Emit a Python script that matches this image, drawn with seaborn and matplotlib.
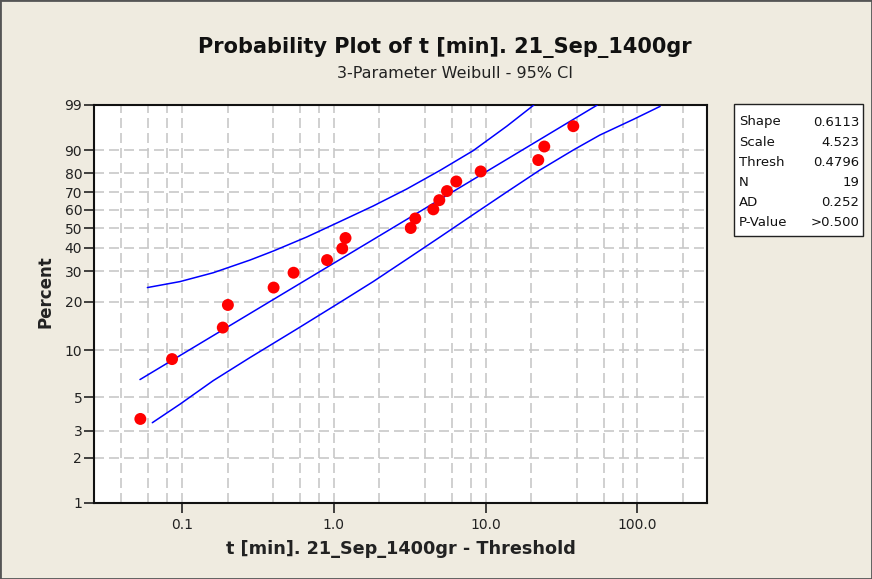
import matplotlib
matplotlib.use("Agg")
import matplotlib.pyplot as plt
import matplotlib.patches as patches
from matplotlib.ticker import NullFormatter, NullLocator
import numpy as np
import pandas as pd
import seaborn as sns

# values
t_obs = [0.0533, 0.0862, 0.186, 0.201, 0.402, 0.544, 0.904, 1.139, 1.196, 3.213,
         3.445, 4.526, 4.958, 5.571, 6.413, 9.284, 22.23, 24.35, 37.8]
pct_obs = [3.6, 8.8, 13.9, 19.1, 24.2, 29.4, 34.5, 39.7, 44.8, 50.0,
           55.2, 60.3, 65.5, 70.6, 75.8, 80.9, 86.1, 91.2, 96.4]

fit_t = [0.053, 54.4]
fit_pct = [6.5, 99.0]

upper_t = [0.0593, 0.0973, 0.161, 0.281, 0.400, 0.664, 1.10, 1.82, 3.02, 5.01, 8.30, 13.8, 20.8]
upper_pct = [24.2, 26.2, 29.4, 34.5, 38.5, 45.3, 53.5, 62.2, 71.7, 81.4, 89.8, 96.4, 99.0]

lower_t = [0.0639, 0.0973, 0.161, 0.281, 0.571, 1.10, 1.82, 3.02, 5.01, 8.30, 13.8, 22.8, 37.8, 56.6, 93.9, 141]
lower_pct = [3.4, 4.5, 6.4, 9.0, 13.6, 19.8, 26.2, 34.8, 45.3, 57.4, 70.1, 81.6, 90.0, 94.5, 97.5, 98.9]

stat_names = ["Shape", "Scale", "Thresh", "N", "AD", "P-Value"]
stat_values = ["0.6113", "4.523", "0.4796", "19", "0.252", ">0.500"]

y_ticks = [1, 2, 3, 5, 10, 20, 30, 40, 50, 60, 70, 80, 90, 99]
x_ticks = [0.1, 1.0, 10.0, 100.0]
x_ticklabels = ["0.1", "1.0", "10.0", "100.0"]
x_minor = [0.04, 0.06, 0.08, 0.2, 0.4, 0.6, 0.8, 2, 4, 6, 8, 20, 40, 60, 80, 200]

BG = "#EFEBE0"
W, H = 872, 579


def weib(p):
    q = np.clip(np.asarray(p, dtype=float) / 100.0, 1e-9, 1 - 1e-9)
    return np.log(-np.log(1 - q))


def weib_inv(w):
    return 100.0 * (1 - np.exp(-np.exp(np.asarray(w, dtype=float))))


sns.set_theme(style="white")
plt.rcParams["font.family"] = ["DejaVu Sans"]

fig = plt.figure(figsize=(W / 100, H / 100), dpi=100, facecolor=BG)
ax = fig.add_axes([94 / W, 1 - 503 / H, 613 / W, 398 / H])
ax.set_facecolor("white")

pts = pd.DataFrame({"t": t_obs, "pct": pct_obs})
sns.scatterplot(data=pts, x="t", y="pct", ax=ax, color="#FF0000", s=74,
                edgecolor="none", linewidth=0, zorder=5)
for tt, pp in [(fit_t, fit_pct), (upper_t, upper_pct), (lower_t, lower_pct)]:
    sns.lineplot(x=tt, y=pp, ax=ax, color="#0000FF", lw=1.1, estimator=None,
                 sort=False, zorder=4)

ax.set_xscale("log")
ax.set_yscale("function", functions=(weib, weib_inv))
ax.set_xlim(0.0264, 287)
ax.set_ylim(1, 99)

ax.set_yticks(y_ticks, labels=[str(v) for v in y_ticks])
ax.yaxis.set_minor_locator(NullLocator())
ax.set_xticks(x_ticks, labels=x_ticklabels)
ax.set_xticks(x_minor, minor=True)
ax.xaxis.set_minor_formatter(NullFormatter())

ax.tick_params(which="major", bottom=True, left=True, direction="out", length=7,
               width=1.2, color="#222222", labelsize=10, labelcolor="#222222")
ax.tick_params(axis="y", pad=1.5)
ax.tick_params(axis="x", pad=4)
ax.tick_params(axis="x", which="minor", bottom=True, length=0)

grid_kw = dict(color="#C8C8C8", linestyle=(0, (6, 3)), linewidth=1.2)
ax.grid(True, which="both", axis="x", **grid_kw)
ax.grid(True, which="major", axis="y", **grid_kw)
ax.set_axisbelow(True)

for sp in ax.spines.values():
    sp.set_color("#111111")
    sp.set_linewidth(1.5)

ax.set_xlabel("t [min]. 21_Sep_1400gr - Threshold", fontsize=12.7, fontweight="bold",
              color="#222222")
ax.xaxis.set_label_coords(0.5, (503 - 549) / 398)
ax.xaxis.label.set_va("center")
ax.set_ylabel("Percent", fontsize=12, fontweight="bold", color="#222222")
ax.yaxis.set_label_coords((45.5 - 94) / 613, (503 - 292) / 398)
ax.yaxis.label.set_va("center")

fig.text(445 / W, 1 - 47 / H, "Probability Plot of t [min]. 21_Sep_1400gr",
         ha="center", va="center", fontsize=15, fontweight="bold", color="#111111")
fig.text(455 / W, 1 - 73 / H, "3-Parameter Weibull - 95% CI",
         ha="center", va="center", fontsize=11.5, color="#222222")

# stats box
box = patches.Rectangle((734 / W, 1 - 236 / H), 129 / W, 132 / H,
                        transform=fig.transFigure, facecolor="white",
                        edgecolor="#222222", linewidth=1.0)
fig.patches.append(box)
for i, (name, val) in enumerate(zip(stat_names, stat_values)):
    yy = 1 - (122 + 20.2 * i) / H
    fig.text(739 / W, yy, name, ha="left", va="center", fontsize=9.5, color="#111111")
    fig.text(859 / W, yy, val, ha="right", va="center", fontsize=9.5, color="#111111")

# window border
border = patches.Rectangle((0, 0), 1, 1, transform=fig.transFigure, fill=False,
                           edgecolor="#555555", linewidth=2.0)
fig.patches.append(border)

fig.savefig("out.png", dpi=100, facecolor=BG)
